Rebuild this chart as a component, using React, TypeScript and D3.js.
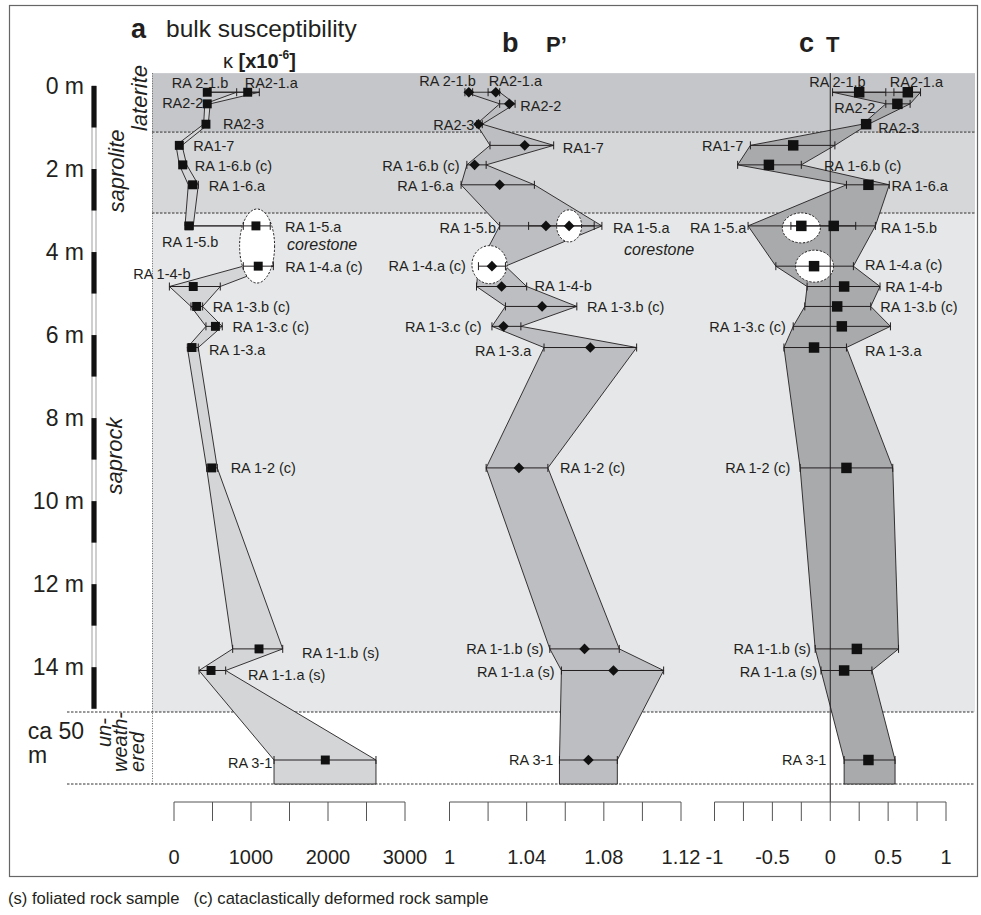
import React from 'react';
import * as d3 from 'd3';

// Samples ordered from top of the profile downwards
const sampleIds = [
  'RA 2-1.b', 'RA2-1.a', 'RA2-2', 'RA2-3', 'RA1-7', 'RA 1-6.b (c)', 'RA 1-6.a',
  'RA 1-5.b', 'RA 1-5.a', 'RA 1-4.a (c)', 'RA 1-4-b', 'RA 1-3.b (c)', 'RA 1-3.c (c)',
  'RA 1-3.a', 'RA 1-2 (c)', 'RA 1-1.b (s)', 'RA 1-1.a (s)', 'RA 3-1',
];
// depth below surface (m); RA 3-1 comes from ca. 50 m
const depthM = [0.15, 0.15, 0.43, 0.92, 1.43, 1.9, 2.38, 3.37, 3.37, 4.34, 4.83, 5.31, 5.79, 6.3, 9.2, 13.56, 14.08, 50];

// a: bulk susceptibility kappa [x10^-6]
const kappaVal = [432, 957, 432, 415, 69, 113, 243, 195, 1064, 1094, 250, 294, 538, 234, 489, 1104, 481, 1965];
const kappaLo = [390, 814, 400, 385, 26, 69, 186, 143, 900, 900, -60, 220, 415, 173, 424, 762, 325, 1299];
const kappaHi = [470, 1108, 470, 445, 104, 165, 316, 250, 1250, 1290, 601, 372, 627, 315, 562, 1412, 671, 2623];

// b: degree of anisotropy P'
const pVal = [1.010, 1.024, 1.031, 1.015, 1.039, 1.013, 1.026, 1.050, 1.062, 1.022, 1.027, 1.048, 1.028, 1.073, 1.036, 1.070, 1.085, 1.072];
const pLo = [1.008, 1.020, 1.026, 1.014, 1.021, 1.009, 1.006, 1.026, 1.041, 1.015, 1.014, 1.029, 1.022, 1.049, 1.019, 1.052, 1.058, 1.057];
const pHi = [1.012, 1.026, 1.034, 1.017, 1.054, 1.019, 1.044, 1.075, 1.079, 1.029, 1.040, 1.066, 1.037, 1.097, 1.051, 1.088, 1.111, 1.087];

// c: shape parameter T
const tVal = [0.25, 0.67, 0.58, 0.31, -0.32, -0.53, 0.33, 0.03, -0.25, -0.14, 0.12, 0.06, 0.10, -0.14, 0.14, 0.23, 0.12, 0.33];
const tLo = [0.02, 0.55, 0.48, 0.28, -0.69, -0.80, 0.14, -0.34, -0.71, -0.47, -0.20, -0.22, -0.32, -0.40, -0.26, -0.13, -0.08, 0.12];
const tHi = [0.48, 0.78, 0.69, 0.33, 0.04, -0.25, 0.51, 0.39, 0.22, 0.20, 0.43, 0.35, 0.52, 0.14, 0.54, 0.59, 0.36, 0.56];

const corestoneIds = ['RA 1-5.a', 'RA 1-4.a (c)'];

// weathering zones (depth limits in m)
const zoneNames = ['laterite', 'saprolite', 'saprock', 'unweathered'];
const zoneTop = [-0.31, 1.11, 3.06, 15.08];
const zoneBottom = [1.11, 3.06, 15.08, 52];

const depthTicks = [0, 2, 4, 6, 8, 10, 12, 14];
const kappaTicks = d3.range(0, 3001, 500);
const kappaTickLabels = [0, 1000, 2000, 3000];
const pTicks = d3.range(0, 7).map((i) => 1 + i * 0.02);
const pTickLabels = ['1', '1.04', '1.08', '1.12'];
const tTicks = d3.range(0, 9).map((i) => -1 + i * 0.25);
const tTickLabels = ['-1', '-0.5', '0', '0.5', '1'];

// label placement relative to each marker: [dx, dy, anchor]
type Lab = [number, number, string];
const labelsA: Lab[] = [
  [21, -9, 'end'], [-3, -9, 'start'], [-4, -1, 'end'], [17, 0, 'start'], [14, 0, 'start'],
  [12, 1, 'start'], [16, 1, 'start'], [-27, 16, 'start'], [29, 1, 'start'], [27, 1, 'start'],
  [-60, -13, 'start'], [16, 0, 'start'], [17, 0, 'start'], [17, 2, 'start'], [19, 0, 'start'],
  [43, 4, 'start'], [37, 4, 'start'], [-53, 3, 'end'],
];
const labelsB: Lab[] = [
  [7, -11, 'end'], [-7, -11, 'start'], [11, 2, 'start'], [-4, 1, 'end'], [38, 2, 'start'],
  [-15, 1, 'end'], [-46, 1, 'end'], [-50, 2, 'end'], [44, 2, 'start'], [-26, 0, 'end'],
  [33, -1, 'start'], [45, 0, 'start'], [-22, 0, 'end'], [-59, 3, 'end'], [41, 0, 'start'],
  [-41, 0, 'end'], [-59, 1, 'end'], [-35, 0, 'end'],
];
const labelsC: Lab[] = [
  [-50, -10, 'start'], [-18, -10, 'start'], [-22, 4, 'end'], [12, 4, 'start'], [-50, 0, 'end'],
  [55, 1, 'start'], [23, 1, 'start'], [47, 1.5, 'start'], [-55, 1.5, 'end'], [51, -1, 'start'],
  [41, 0, 'start'], [43, 0, 'start'], [-56, 0, 'end'], [51, 3, 'start'], [-56, 0, 'end'],
  [-46, 0, 'end'], [-27, 1, 'end'], [-42, 0, 'end'],
];

const SANS = "'Liberation Sans', Arial, Helvetica, sans-serif";
const INK = '#231f20';

const y = d3.scaleLinear().domain([0, 15.08, 46, 52]).range([86, 712, 712, 784]);

type Panel = {
  key: string;
  x: d3.ScaleLinear<number, number>;
  val: number[];
  lo: number[];
  hi: number[];
  ticks: number[];
  tickLabels: (string | number)[];
  marker: 'square' | 'diamond';
  markerSize: number;
  fill: string;
  merge: boolean;
  labels: Lab[];
  ellipses: { rx: number; ry: number; dx: number; dy: number }[];
  joinEllipses: boolean;
};

const panels: Panel[] = [
  {
    key: 'a', x: d3.scaleLinear().domain([0, 3000]).range([174, 405]),
    val: kappaVal, lo: kappaLo, hi: kappaHi, ticks: kappaTicks, tickLabels: kappaTickLabels,
    marker: 'square', markerSize: 80, fill: '#d4d5d7', merge: false, labels: labelsA,
    ellipses: [{ rx: 17.5, ry: 37, dx: 0, dy: 0 }], joinEllipses: true,
  },
  {
    key: 'b', x: d3.scaleLinear().domain([1, 1.12]).range([449.5, 681]),
    val: pVal, lo: pLo, hi: pHi, ticks: pTicks, tickLabels: pTickLabels,
    marker: 'diamond', markerSize: 72, fill: '#bdbec1', merge: true, labels: labelsB,
    ellipses: [{ rx: 12.5, ry: 16, dx: 0, dy: 0 }, { rx: 17.5, ry: 19, dx: -2.5, dy: -1.5 }], joinEllipses: false,
  },
  {
    key: 'c', x: d3.scaleLinear().domain([-1, 1]).range([714.5, 946]),
    val: tVal, lo: tLo, hi: tHi, ticks: tTicks, tickLabels: tTickLabels,
    marker: 'square', markerSize: 110, fill: '#a9aaac', merge: true, labels: labelsC,
    ellipses: [{ rx: 19, ry: 15, dx: 0, dy: 2 }, { rx: 19, ry: 16, dx: 0.5, dy: 0 }], joinEllipses: false,
  },
];

function bandPath(p: Panel): string {
  const rows: { d: number; lo: number; hi: number }[] = [];
  depthM.forEach((d, i) => {
    const last = rows[rows.length - 1];
    if (p.merge && last && last.d === d) {
      last.lo = Math.min(last.lo, p.lo[i]);
      last.hi = Math.max(last.hi, p.hi[i]);
    } else rows.push({ d, lo: p.lo[i], hi: p.hi[i] });
  });
  const end = rows[rows.length - 1];
  rows.push({ d: zoneBottom[zoneBottom.length - 1], lo: end.lo, hi: end.hi });
  const left = rows.map((r) => [p.x(r.lo), y(r.d)] as [number, number]);
  const right = rows.map((r) => [p.x(r.hi), y(r.d)] as [number, number]).reverse();
  return (d3.line()([...left, ...right]) || '') + 'Z';
}

const zoneFill = ['#c5c6c9', '#d6d7d9', '#e6e7e9', '#ffffff'];

function PanelMarks({ p }: { p: Panel }) {
  const sym = d3.symbol()
    .type(p.marker === 'square' ? d3.symbolSquare : d3.symbolDiamond2)
    .size(p.markerSize)();
  const coreIdx = corestoneIds.map((id) => sampleIds.indexOf(id));
  let ellipses: React.ReactNode[];
  if (p.joinEllipses) {
    const e = p.ellipses[0];
    const xs = coreIdx.map((i) => p.x(p.val[i]));
    const ys = coreIdx.map((i) => y(depthM[i]));
    const cy = d3.mean(ys) as number;
    ellipses = [
      <ellipse key="e" cx={d3.mean(xs) as number} cy={cy}
        rx={e.rx} ry={e.ry} fill="#fff" stroke={INK} strokeWidth={1} strokeDasharray="2.2 1.6" />,
    ];
  } else {
    ellipses = coreIdx.map((i, k) => {
      const e = p.ellipses[k];
      return (
        <ellipse key={k} cx={p.x(p.val[i]) + e.dx} cy={y(depthM[i]) + e.dy}
          rx={e.rx} ry={e.ry} fill="#fff" stroke={INK} strokeWidth={1} strokeDasharray="2.2 1.6" />
      );
    });
  }
  return (
    <g>
      <path d={bandPath(p)} fill={p.fill} stroke={INK} strokeWidth={0.9} strokeLinejoin="miter" />
      {ellipses}
      {p.key === 'c' && (
        <line x1={p.x(0)} x2={p.x(0)} y1={y(zoneTop[0])} y2={802} stroke={INK} strokeWidth={1} />
      )}
      {sampleIds.map((id, i) => {
        const yy = y(depthM[i]);
        const x0 = p.x(p.lo[i]);
        const x1 = p.x(p.hi[i]);
        return (
          <g key={id} stroke={INK} strokeWidth={1}>
            <line x1={x0} x2={x1} y1={yy} y2={yy} />
            <line x1={x0} x2={x0} y1={yy - 4} y2={yy + 4} />
            <line x1={x1} x2={x1} y1={yy - 4} y2={yy + 4} />
          </g>
        );
      })}
      {sampleIds.map((id, i) => (
        <path key={id} d={sym || ''} fill="#111"
          transform={`translate(${p.x(p.val[i])},${y(depthM[i])})`} />
      ))}
      {sampleIds.map((id, i) => {
        const [dx, dy, anchor] = p.labels[i];
        return (
          <text key={id} x={p.x(p.val[i]) + dx} y={y(depthM[i]) + dy} dy="0.36em"
            textAnchor={anchor} fontSize={14.5} fontFamily={SANS} fill={INK}>
            {id}
          </text>
        );
      })}
      {/* axis */}
      <g stroke="#555" strokeWidth={1} fill="none">
        <line x1={p.x(p.ticks[0])} x2={p.x(p.ticks[p.ticks.length - 1])} y1={802} y2={802} />
        {p.ticks.map((t) => (
          <line key={t} x1={p.x(t)} x2={p.x(t)} y1={802} y2={821} />
        ))}
      </g>
      {p.tickLabels.map((t) => (
        <text key={String(t)} x={p.x(+t)} y={857} dy="0.36em" textAnchor="middle"
          fontSize={20} fontFamily={SANS} fill={INK}>
          {t}
        </text>
      ))}
    </g>
  );
}

export default function App() {
  const barSegs = d3.range(0, 15);
  return (
    <svg width={981} height={915} viewBox="0 0 981 915"
      style={{ position: 'absolute', left: 0, top: 0, background: '#fff' }}>
      <rect x={0} y={0} width={981} height={915} fill="#fff" />
      {/* weathering zones */}
      {zoneNames.map((z, i) => (
        <rect key={z} x={152} width={823} y={y(zoneTop[i])}
          height={y(zoneBottom[i]) - y(zoneTop[i])} fill={zoneFill[i]} />
      ))}
      <line x1={152.5} x2={152.5} y1={y(zoneTop[0])} y2={y(zoneBottom[3])}
        stroke="#666" strokeWidth={1} strokeDasharray="1 1.5" />
      {zoneBottom.map((b, i) => (
        <line key={i} x1={i < 2 ? 152 : 67} x2={975} y1={y(b)} y2={y(b)}
          stroke="#333" strokeWidth={1} strokeDasharray="2.5 1.5" />
      ))}

      {panels.map((p) => <PanelMarks key={p.key} p={p} />)}

      {/* depth scale */}
      <rect x={92} width={4} y={y(0)} height={y(15) - y(0)} fill="#fff" stroke="#888" strokeWidth={0.8} />
      {barSegs.filter((s) => s % 2 === 0).map((s) => (
        <rect key={s} x={91.5} width={5} y={y(s)} height={y(s + 1) - y(s)} fill="#111" />
      ))}
      {depthTicks.map((d) => (
        <text key={d} x={84} y={y(d)} dy="0.36em" textAnchor="end" fontSize={23}
          fontFamily={SANS} fill={INK}>{`${d} m`}</text>
      ))}
      <text x={84} y={731} dy="0.36em" textAnchor="end" fontSize={23} fontFamily={SANS} fill={INK}>ca 50</text>
      <text x={28} y={755} dy="0.36em" textAnchor="start" fontSize={23} fontFamily={SANS} fill={INK}>m</text>

      {/* zone names */}
      <g fontFamily={SANS} fontStyle="italic" fill={INK} fontSize={22}>
        <text transform="translate(139,98) rotate(-90)" textAnchor="middle" dy="0.36em">{zoneNames[0]}</text>
        <text transform="translate(116,171) rotate(-90)" textAnchor="middle" dy="0.36em">{zoneNames[1]}</text>
        <text transform="translate(114,456) rotate(-90)" textAnchor="middle" dy="0.36em">{zoneNames[2]}</text>
        <g fontSize={20}>
          <text transform="translate(104,747) rotate(-90)" textAnchor="start" dy="0.36em">un-</text>
          <text transform="translate(120,772) rotate(-90)" textAnchor="start" dy="0.36em">weath-</text>
          <text transform="translate(137,772) rotate(-90)" textAnchor="start" dy="0.36em">ered</text>
        </g>
      </g>

      {/* corestone notes */}
      <text x={287} y={244} dy="0.36em" fontSize={16} fontStyle="italic" fontFamily={SANS} fill={INK}>corestone</text>
      <text x={624} y={249} dy="0.36em" fontSize={16} fontStyle="italic" fontFamily={SANS} fill={INK}>corestone</text>

      {/* headers */}
      <g fontFamily={SANS} fill={INK}>
        <text x={131} y={38} fontSize={27} fontWeight="bold">a</text>
        <text x={166} y={37} fontSize={24.5}>bulk susceptibility</text>
        <text x={223} y={68} fontSize={20}>
          <tspan>κ </tspan>
          <tspan fontWeight="bold">[x10</tspan>
          <tspan fontWeight="bold" fontSize={12} dy={-9}>-6</tspan>
          <tspan fontWeight="bold" dy={9}>]</tspan>
        </text>
        <text x={502} y={52} fontSize={27} fontWeight="bold">b</text>
        <text x={546} y={52} fontSize={22} fontWeight="bold">P’</text>
        <text x={799} y={52} fontSize={27} fontWeight="bold">c</text>
        <text x={826} y={52} fontSize={22} fontWeight="bold">T</text>
      </g>

      {/* frame */}
      <rect x={9.5} y={5.5} width={968} height={871} fill="none" stroke="#666" strokeWidth={1.2} />
      <text x={8} y={898} dy="0.36em" fontSize={16.6} fontFamily={SANS} fill={INK}>
        (s) foliated rock sample{'\u00a0\u00a0\u00a0'}(c) cataclastically deformed rock sample
      </text>
    </svg>
  );
}
